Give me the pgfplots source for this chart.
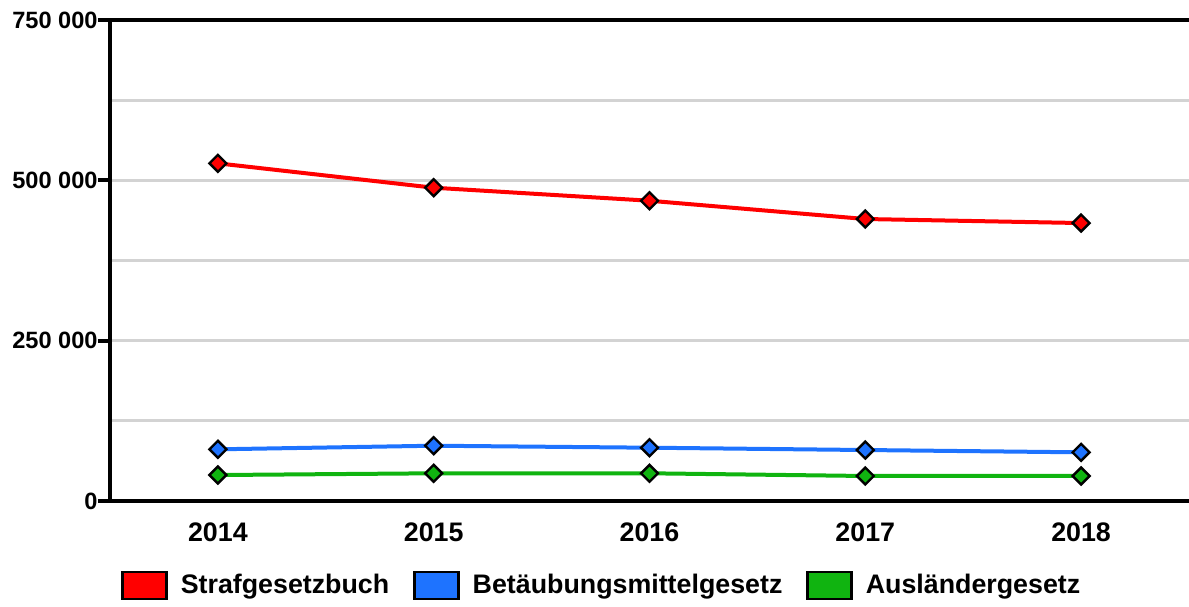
\documentclass[border=0pt]{standalone}
\usepackage{pgfplots}
\pgfplotsset{compat=1.18}
\usepackage{fontspec}
\setmainfont{Liberation Sans}
\definecolor{cred}{RGB}{255,0,0}
\definecolor{cblue}{RGB}{30,115,255}
\definecolor{cgreen}{RGB}{16,180,16}
\definecolor{cgrid}{RGB}{211,211,211}
\begin{document}
\begin{tikzpicture}
\path[use as bounding box] (-55pt,-52.5pt) rectangle (539.5pt,250.5pt);
\begin{axis}[
 at={(0,0)}, anchor=south west,
 width=539.5pt, height=240.5pt, scale only axis,
 xmin=-0.5, xmax=4.5, ymin=0, ymax=750000,
 scaled y ticks=false,
 axis y line*=left,
 xtick={0,1,2,3,4}, xticklabels={2014,2015,2016,2017,2018},
 x tick style={draw=none},
 ytick={0,250000,500000,750000},
 yticklabels={0,250 000,500 000,750 000},
 minor ytick={125000,375000,625000},
 ymajorgrids, yminorgrids,
 major grid style={cgrid, line width=1.5pt},
 minor grid style={cgrid, line width=1.5pt},
 minor tick length=0pt,
 y tick style={black, line width=2pt},
 tick align=outside, major tick length=6pt,
 axis line style={black, line width=2pt},
 xticklabel style={font=\fontsize{13.4}{16}\selectfont\bfseries, inner sep=0pt, anchor=north, yshift=-4.5pt},
 yticklabel style={font=\fontsize{11.8}{14}\selectfont\bfseries, inner sep=0pt, anchor=east},
 legend image code/.code={\draw[#1, draw=black, line width=1.2pt] (0pt,-6.75pt) rectangle (22pt,6.75pt);},
 legend columns=3,
 legend style={draw=none, fill=none, inner sep=0pt,
   at={(axis description cs:0.0102,-0.1757)}, anchor=west,
   font=\fontsize{13.4}{16}\selectfont\bfseries,
   nodes={inner sep=0pt},
   /tikz/every odd column/.append style={column sep=6.5pt},
   /tikz/every even column/.append style={column sep=12pt}},
]
\addplot[cred, line width=2pt, mark=square*, mark size=3pt, mark options={rotate=45, fill=cred, draw=black, line width=1.2pt}, forget plot]
 coordinates {(0,526500) (1,488500) (2,468200) (3,439700) (4,433400)};
\addplot[cblue, line width=2pt, mark=square*, mark size=3pt, mark options={rotate=45, fill=cblue, draw=black, line width=1.2pt}, forget plot]
 coordinates {(0,80600) (1,86200) (2,83100) (3,79500) (4,75900)};
\addplot[cgreen, line width=2pt, mark=square*, mark size=3pt, mark options={rotate=45, fill=cgreen, draw=black, line width=1.2pt}, forget plot]
 coordinates {(0,40500) (1,43200) (2,43200) (3,39000) (4,39000)};
\addlegendimage{fill=cred}
\addlegendentry{Strafgesetzbuch}
\addlegendimage{fill=cblue}
\addlegendentry{Betäubungsmittelgesetz}
\addlegendimage{fill=cgreen}
\addlegendentry{Ausländergesetz}
\end{axis}
\end{tikzpicture}
\end{document}
